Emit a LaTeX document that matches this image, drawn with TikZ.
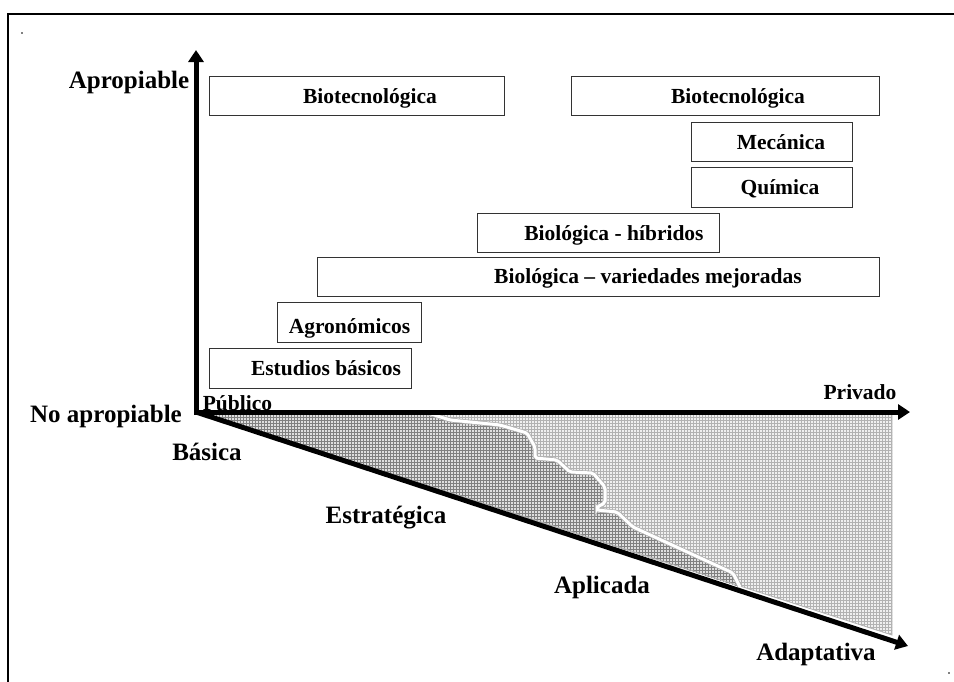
\documentclass[tikz,border=0pt]{standalone}
\usepackage{fontspec}
\setmainfont{Liberation Serif}
\usetikzlibrary{arrows.meta,patterns}

\tikzset{
  flecha/.tip={Triangle[length=12pt,width=15pt]},
  caja/.style={draw=black!80, line width=0.8pt, fill=white, inner sep=0pt},
  etiq/.style={font=\fontsize{21.5}{24}\selectfont\bfseries, inner sep=0pt, anchor=base},
  etiqg/.style={etiq, font=\fontsize{25}{28}\selectfont\bfseries},
  eje/.style={line width=5pt, line join=miter},
  frontera/.style={draw=gray!60, double=white, double distance=3pt, line width=0.8pt, rounded corners=2pt},
}

\begin{document}
\begin{tikzpicture}[x=1pt, y=-1pt]
\clip (0,0) rectangle (954,681);
% marco
\draw[line width=2.5pt] (8,720) -- (8,14) -- (1000,14);
\fill (22,33) circle (0.9pt);
\fill (949,673) circle (0.9pt);

% zonas bajo el eje
\coordinate (fa) at (203,413);
\coordinate (fb) at (428,413);
\coordinate (fc) at (892,413);
\coordinate (fd) at (892,635);
\coordinate (fe) at (740,587);
\def\limite{(fb) -- (450,420) -- (500,425) -- (527,433) -- (535,447) -- (535,458)
  -- (557,460) -- (570,472) -- (593,473) -- (605,487) -- (605,503) -- (597,507)
  -- (597,510) -- (617,512) -- (633,527) -- (733,573) -- (fe)}
\fill[gray!12] (fa) -- (fc) -- (fd) -- cycle;
\fill[pattern=grid, pattern color=gray!60] (fa) -- (fc) -- (fd) -- cycle;
\fill[gray!25] (fa) -- \limite -- cycle;
\fill[pattern=grid, pattern color=black!50] (fa) -- \limite -- cycle;
\draw[gray!60, line width=0.8pt] (fa) -- (fd) -- (fc);
\draw[frontera] \limite;

% ejes
\coordinate (O) at (196,412);
\coordinate (ytop) at (196,50);
\coordinate (xend) at (910,412);
\coordinate (zend) at (908,646);
\draw[eje, flecha-flecha] (ytop) -- (O) -- (xend);
\draw[eje, -flecha] (O) -- (zend);

% cajas
\node[caja, minimum width=295pt, minimum height=39pt] (bt1) at (356.5,95.5) {};
\node[caja, minimum width=308pt, minimum height=39pt] (bt2) at (725,95.5) {};
\node[caja, minimum width=161pt, minimum height=39pt] (mec) at (771.5,141.5) {};
\node[caja, minimum width=161pt, minimum height=40pt] (qui) at (771.5,187) {};
\node[caja, minimum width=242pt, minimum height=39pt] (hib) at (598,232.5) {};
\node[caja, minimum width=562pt, minimum height=39pt] (var) at (598,276.5) {};
\node[caja, minimum width=144pt, minimum height=40pt] (agr) at (349,322) {};
\node[caja, minimum width=202pt, minimum height=40pt] (est) at (310,368) {};

\node[etiq] (bt1-t) at (370,103) {Biotecnológica};
\node[etiq] (bt2-t) at (738,103) {Biotecnológica};
\node[etiq] (mec-t) at (781,149) {Mecánica};
\node[etiq] (qui-t) at (780,194) {Química};
\node[etiq] (hib-t) at (614,240) {Biológica - híbridos};
\node[etiq] (var-t) at (648,283) {Biológica – variedades mejoradas};
\node[etiq] (agr-t) at (349.5,333) {Agronómicos};
\node[etiq] (est-t) at (326,375) {Estudios básicos};

% rotulos de los ejes
\node[etiqg] (aprop) at (129,88) {Apropiable};
\node[etiqg] (noaprop) at (106,422) {No apropiable};
\node[etiq] (publ) at (237.5,410) {Público};
\node[etiq] (priv) at (860,399) {Privado};
\node[etiqg] (basica) at (207,460) {Básica};
\node[etiqg] (estrat) at (386,523) {Estratégica};
\node[etiqg] (aplic) at (602,593) {Aplicada};
\node[etiqg] (adapt) at (816,660) {Adaptativa};
\end{tikzpicture}
\end{document}
